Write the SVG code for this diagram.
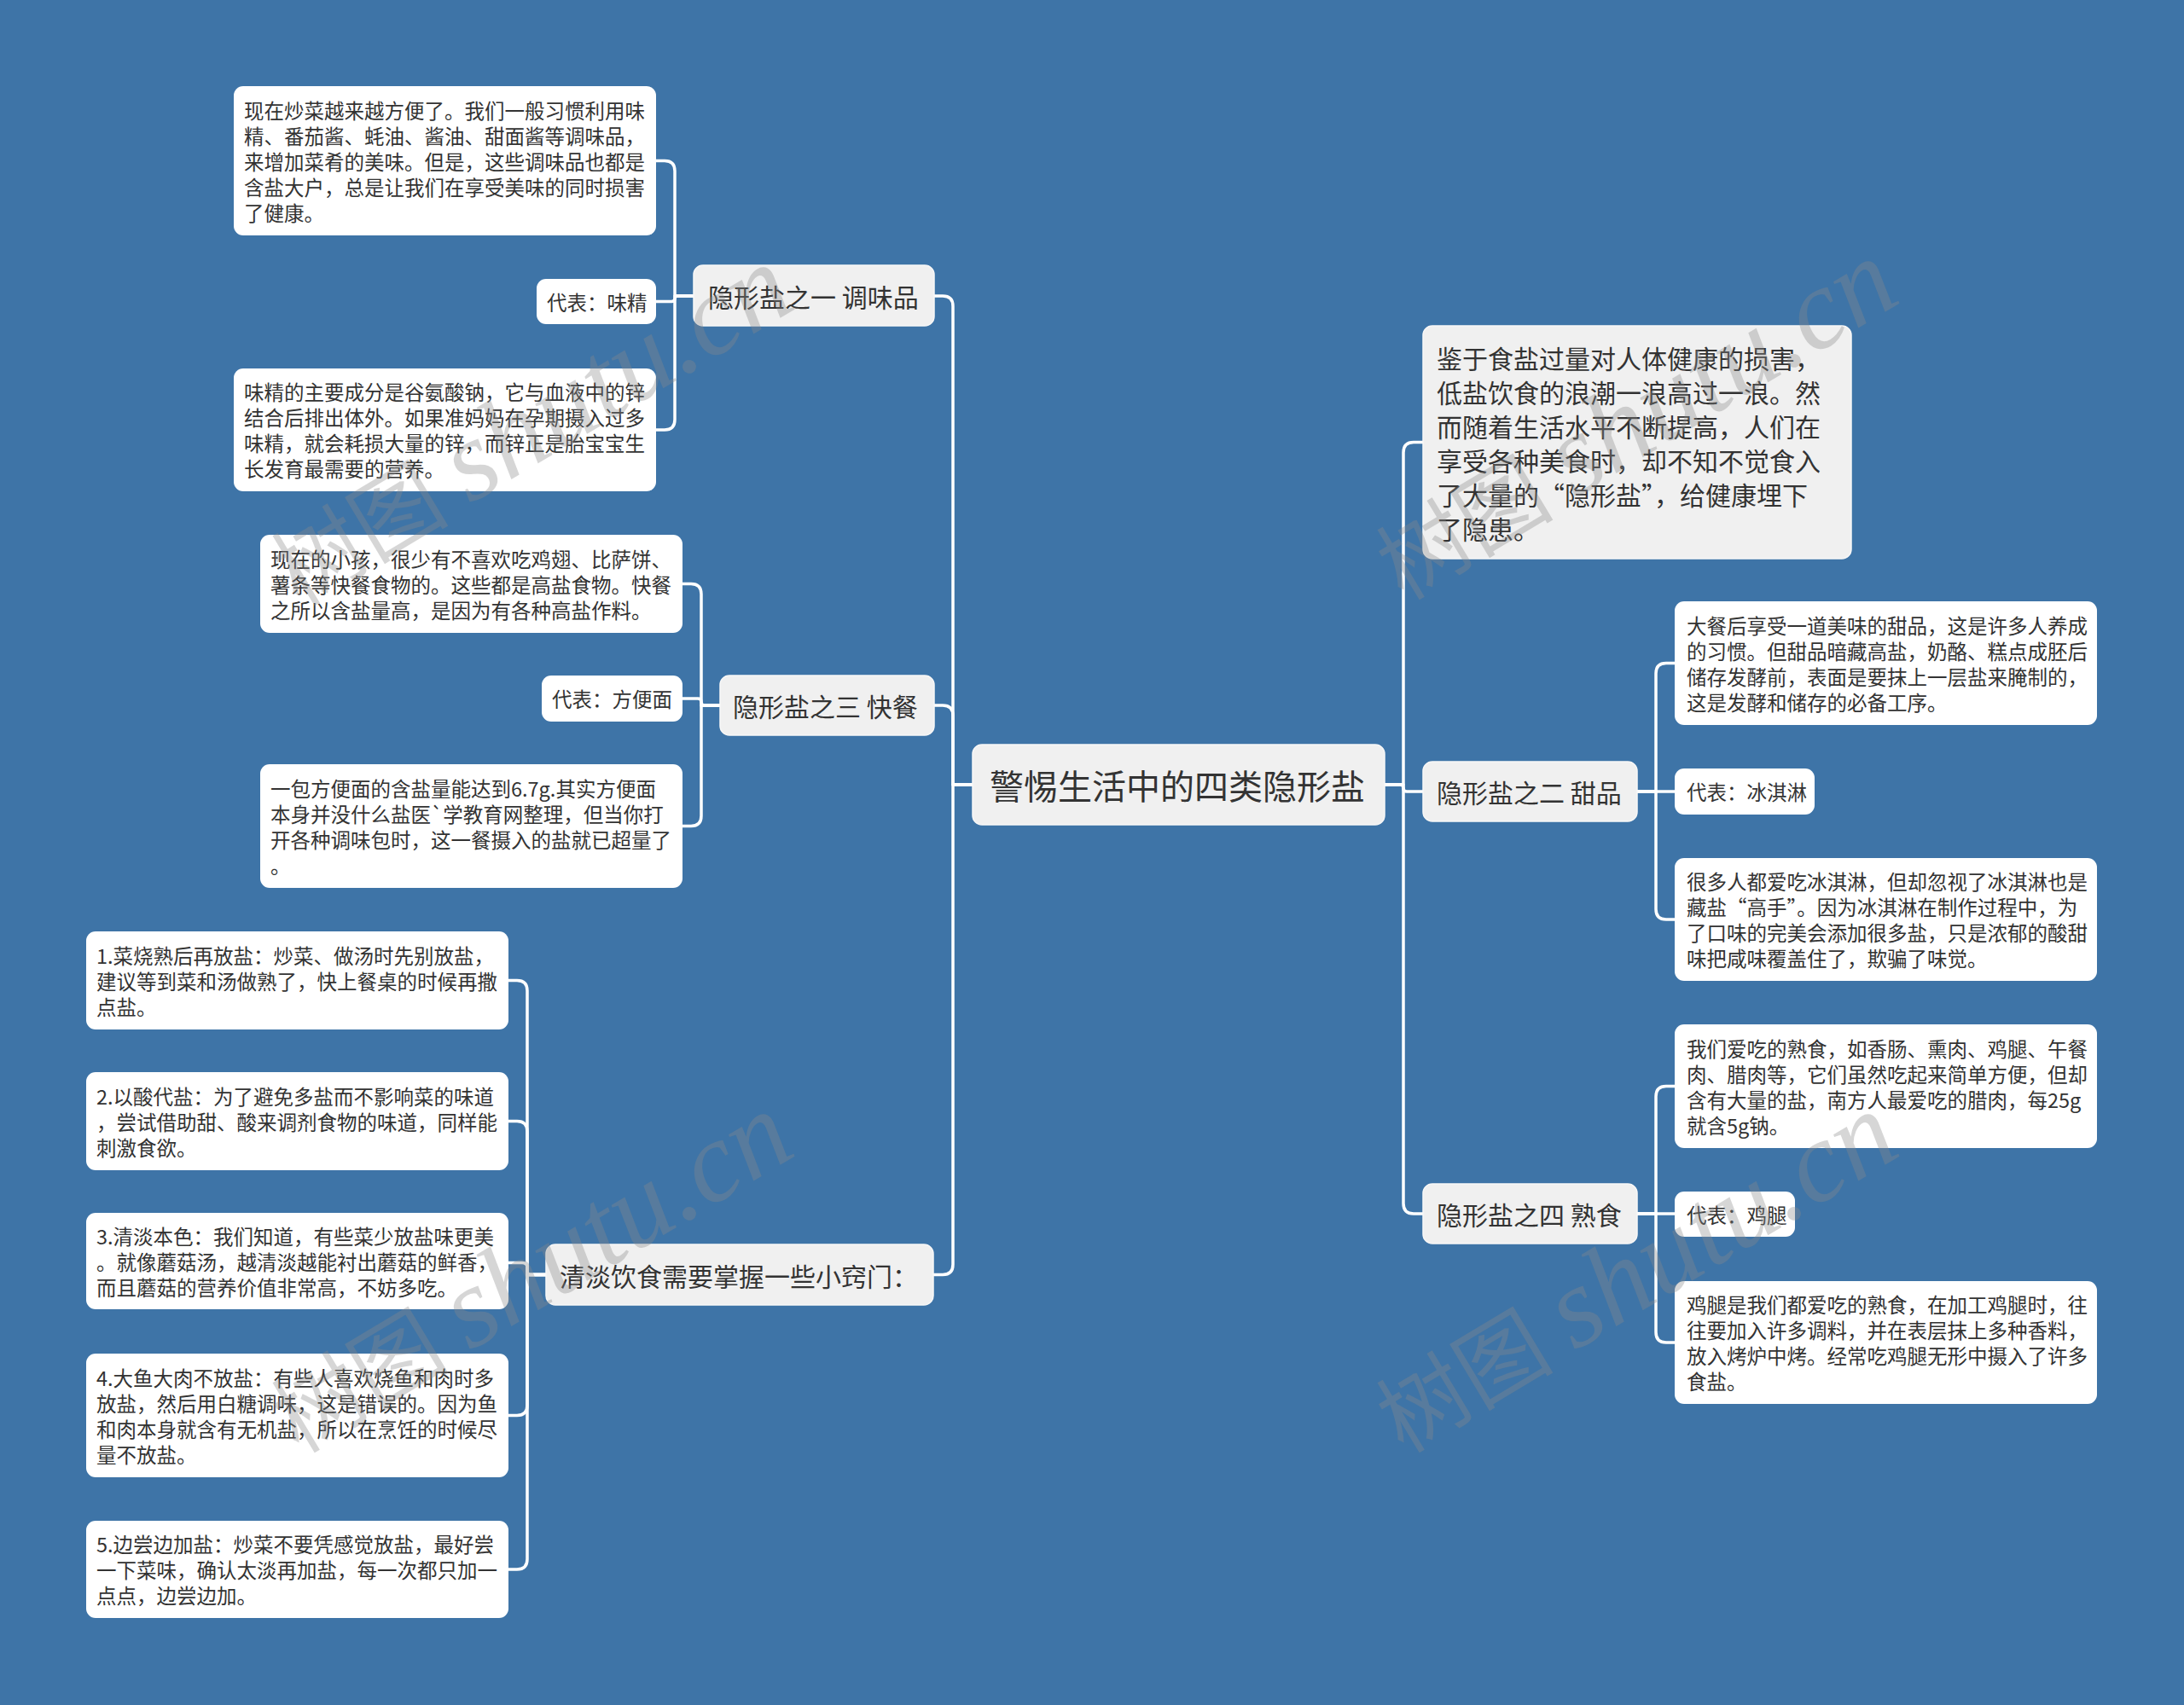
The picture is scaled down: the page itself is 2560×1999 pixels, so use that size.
<svg xmlns="http://www.w3.org/2000/svg" width="2560" height="1999" viewBox="0 0 2560 1999">
<style>
.bg{fill:#3e74a7}
.main{fill:#f0f0f0;stroke:#f7f7f7;stroke-width:1.5}
.sub{fill:#ffffff}
.t{font-family:"Noto Sans CJK SC","Noto Sans",sans-serif;fill:#333333;dominant-baseline:central}
.t40{font-size:40px}
.t30{font-size:30px}
.t23{font-size:23.5px}
.c{fill:none;stroke:#ffffff;stroke-width:3.5;stroke-linejoin:round}
.wm{font-family:"Liberation Serif","Noto Sans CJK SC",serif;fill:#8a8a8a;opacity:0.34;font-size:104px}
</style>
<rect class="bg" x="0" y="0" width="2560" height="1999"/>

<g id="connectors">
<path class="c" d="M1623 920 H1645 V530.5 Q1645 518.5 1657 518.5 H1668"/>
<path class="c" d="M1623 920 H1641 Q1645 920 1645 924 Q1645 928 1649 928 H1668"/>
<path class="c" d="M1623 920 H1645 V1411 Q1645 1423 1657 1423 H1668"/>
<path class="c" d="M1140 920 H1117 V359 Q1117 347 1105 347 H1095"/>
<path class="c" d="M1140 920 H1117 V839 Q1117 827 1105 827 H1095"/>
<path class="c" d="M1140 920 H1117 V1482.5 Q1117 1494.5 1105 1494.5 H1094"/>
<path class="c" d="M813 347 H791 V200.5 Q791 188.5 779 188.5 H769"/>
<path class="c" d="M813 347 H795 Q791 347 791 350 Q791 353.5 787 353.5 H769"/>
<path class="c" d="M813 347 H791 V492 Q791 504 779 504 H769"/>
<path class="c" d="M844 827 H822 V696.5 Q822 684.5 810 684.5 H800"/>
<path class="c" d="M844 827 H826 Q822 827 822 823 Q822 819 818 819 H800"/>
<path class="c" d="M844 827 H822 V956.5 Q822 968.5 810 968.5 H800"/>
<path class="c" d="M640 1494.5 H618 V1161.5 Q618 1149.5 606 1149.5 H596"/>
<path class="c" d="M640 1494.5 H618 V1326.5 Q618 1314.5 606 1314.5 H596"/>
<path class="c" d="M640 1494.5 H622 Q618 1494.5 618 1490 V1486 Q618 1480.5 612 1480.5 H596"/>
<path class="c" d="M640 1494.5 H618 V1647.5 Q618 1659.5 606 1659.5 H596"/>
<path class="c" d="M640 1494.5 H618 V1828 Q618 1840 606 1840 H596"/>
<path class="c" d="M1919 928 H1941 V789.5 Q1941 777.5 1953 777.5 H1963"/>
<path class="c" d="M1919 928 H1963"/>
<path class="c" d="M1919 928 H1941 V1066 Q1941 1078 1953 1078 H1963"/>
<path class="c" d="M1919 1423 H1941 V1285.5 Q1941 1273.5 1953 1273.5 H1963"/>
<path class="c" d="M1919 1423 H1963"/>
<path class="c" d="M1919 1423 H1941 V1562 Q1941 1574 1953 1574 H1963"/>
</g>

<g id="root">
<rect class="main" x="1140" y="873" width="483" height="94" rx="11"/>
<text class="t t40" x="1160" y="920">警惕生活中的四类隐形盐</text>
</g>

<g id="intro">
<rect class="main" x="1668" y="382" width="502" height="273" rx="11"/>
<text class="t t30" x="1684" y="418.5">鉴于食盐过量对人体健康的损害，</text>
<text class="t t30" x="1684" y="458.5">低盐饮食的浪潮一浪高过一浪。然</text>
<text class="t t30" x="1684" y="498.5">而随着生活水平不断提高，人们在</text>
<text class="t t30" x="1684" y="538.5">享受各种美食时，却不知不觉食入</text>
<text class="t t30" x="1684" y="578.5">了大量的“隐形盐”，给健康埋下</text>
<text class="t t30" x="1684" y="618.5">了隐患。</text>
</g>

<g id="tiandian">
<rect class="main" x="1668" y="893" width="251" height="70" rx="11"/>
<text class="t t30" x="1684" y="928">隐形盐之二 甜品</text>
</g>
<g id="tiandian-1">
<rect class="sub" x="1963" y="705" width="495" height="145" rx="11"/>
<text class="t t23" x="1977" y="732.5">大餐后享受一道美味的甜品，这是许多人养成</text>
<text class="t t23" x="1977" y="762.5">的习惯。但甜品暗藏高盐，奶酪、糕点成胚后</text>
<text class="t t23" x="1977" y="792.5">储存发酵前，表面是要抹上一层盐来腌制的，</text>
<text class="t t23" x="1977" y="822.5">这是发酵和储存的必备工序。</text>
</g>
<g id="tiandian-2">
<rect class="sub" x="1963" y="901" width="164" height="54" rx="11"/>
<text class="t t23" x="1977" y="928">代表：冰淇淋</text>
</g>
<g id="tiandian-3">
<rect class="sub" x="1963" y="1006" width="495" height="144" rx="11"/>
<text class="t t23" x="1977" y="1033">很多人都爱吃冰淇淋，但却忽视了冰淇淋也是</text>
<text class="t t23" x="1977" y="1063">藏盐“高手”。因为冰淇淋在制作过程中，为</text>
<text class="t t23" x="1977" y="1093">了口味的完美会添加很多盐，只是浓郁的酸甜</text>
<text class="t t23" x="1977" y="1123">味把咸味覆盖住了，欺骗了味觉。</text>
</g>

<g id="shushi">
<rect class="main" x="1668" y="1388" width="251" height="70" rx="11"/>
<text class="t t30" x="1684" y="1423">隐形盐之四 熟食</text>
</g>
<g id="shushi-1">
<rect class="sub" x="1963" y="1201" width="495" height="145" rx="11"/>
<text class="t t23" x="1977" y="1228.5">我们爱吃的熟食，如香肠、熏肉、鸡腿、午餐</text>
<text class="t t23" x="1977" y="1258.5">肉、腊肉等，它们虽然吃起来简单方便，但却</text>
<text class="t t23" x="1977" y="1288.5">含有大量的盐，南方人最爱吃的腊肉，每25g</text>
<text class="t t23" x="1977" y="1318.5">就含5g钠。</text>
</g>
<g id="shushi-2">
<rect class="sub" x="1963" y="1397" width="141" height="53" rx="11"/>
<text class="t t23" x="1977" y="1423.5">代表：鸡腿</text>
</g>
<g id="shushi-3">
<rect class="sub" x="1963" y="1502" width="495" height="144" rx="11"/>
<text class="t t23" x="1977" y="1529">鸡腿是我们都爱吃的熟食，在加工鸡腿时，往</text>
<text class="t t23" x="1977" y="1559">往要加入许多调料，并在表层抹上多种香料，</text>
<text class="t t23" x="1977" y="1589">放入烤炉中烤。经常吃鸡腿无形中摄入了许多</text>
<text class="t t23" x="1977" y="1619">食盐。</text>
</g>

<g id="tiaoweipin">
<rect class="main" x="813" y="311" width="282" height="71" rx="11"/>
<text class="t t30" x="830" y="346.5">隐形盐之一 调味品</text>
</g>
<g id="tiaoweipin-1">
<rect class="sub" x="274" y="101" width="495" height="175" rx="11"/>
<text class="t t23" x="286" y="128.5">现在炒菜越来越方便了。我们一般习惯利用味</text>
<text class="t t23" x="286" y="158.5">精、番茄酱、蚝油、酱油、甜面酱等调味品，</text>
<text class="t t23" x="286" y="188.5">来增加菜肴的美味。但是，这些调味品也都是</text>
<text class="t t23" x="286" y="218.5">含盐大户，总是让我们在享受美味的同时损害</text>
<text class="t t23" x="286" y="248.5">了健康。</text>
</g>
<g id="tiaoweipin-2">
<rect class="sub" x="629" y="327" width="140" height="53" rx="11"/>
<text class="t t23" x="641" y="353.5">代表：味精</text>
</g>
<g id="tiaoweipin-3">
<rect class="sub" x="274" y="432" width="495" height="144" rx="11"/>
<text class="t t23" x="286" y="459">味精的主要成分是谷氨酸钠，它与血液中的锌</text>
<text class="t t23" x="286" y="489">结合后排出体外。如果准妈妈在孕期摄入过多</text>
<text class="t t23" x="286" y="519">味精，就会耗损大量的锌，而锌正是胎宝宝生</text>
<text class="t t23" x="286" y="549">长发育最需要的营养。</text>
</g>

<g id="kuaican">
<rect class="main" x="844" y="792" width="251" height="70" rx="11"/>
<text class="t t30" x="859" y="827">隐形盐之三 快餐</text>
</g>
<g id="kuaican-1">
<rect class="sub" x="305" y="627" width="495" height="115" rx="11"/>
<text class="t t23" x="317" y="654.5">现在的小孩，很少有不喜欢吃鸡翅、比萨饼、</text>
<text class="t t23" x="317" y="684.5">薯条等快餐食物的。这些都是高盐食物。快餐</text>
<text class="t t23" x="317" y="714.5">之所以含盐量高，是因为有各种高盐作料。</text>
</g>
<g id="kuaican-2">
<rect class="sub" x="635" y="792" width="165" height="54" rx="11"/>
<text class="t t23" x="647" y="819">代表：方便面</text>
</g>
<g id="kuaican-3">
<rect class="sub" x="305" y="896" width="495" height="145" rx="11"/>
<text class="t t23" x="317" y="923.5">一包方便面的含盐量能达到6.7g.其实方便面</text>
<text class="t t23" x="317" y="953.5">本身并没什么盐医`学教育网整理，但当你打</text>
<text class="t t23" x="317" y="983.5">开各种调味包时，这一餐摄入的盐就已超量了</text>
<text class="t t23" x="317" y="1013.5">。</text>
</g>

<g id="qingdan">
<rect class="main" x="640" y="1459" width="454" height="71" rx="11"/>
<text class="t t30" x="656" y="1494.5">清淡饮食需要掌握一些小窍门：</text>
</g>
<g id="qingdan-1">
<rect class="sub" x="101" y="1092" width="495" height="115" rx="11"/>
<text class="t t23" x="113" y="1119.5">1.菜烧熟后再放盐：炒菜、做汤时先别放盐，</text>
<text class="t t23" x="113" y="1149.5">建议等到菜和汤做熟了，快上餐桌的时候再撒</text>
<text class="t t23" x="113" y="1179.5">点盐。</text>
</g>
<g id="qingdan-2">
<rect class="sub" x="101" y="1257" width="495" height="115" rx="11"/>
<text class="t t23" x="113" y="1284.5">2.以酸代盐：为了避免多盐而不影响菜的味道</text>
<text class="t t23" x="113" y="1314.5">，尝试借助甜、酸来调剂食物的味道，同样能</text>
<text class="t t23" x="113" y="1344.5">刺激食欲。</text>
</g>
<g id="qingdan-3">
<rect class="sub" x="101" y="1422" width="495" height="113" rx="11"/>
<text class="t t23" x="113" y="1448.5">3.清淡本色：我们知道，有些菜少放盐味更美</text>
<text class="t t23" x="113" y="1478.5">。就像蘑菇汤，越清淡越能衬出蘑菇的鲜香，</text>
<text class="t t23" x="113" y="1508.5">而且蘑菇的营养价值非常高，不妨多吃。</text>
</g>
<g id="qingdan-4">
<rect class="sub" x="101" y="1587" width="495" height="145" rx="11"/>
<text class="t t23" x="113" y="1614.5">4.大鱼大肉不放盐：有些人喜欢烧鱼和肉时多</text>
<text class="t t23" x="113" y="1644.5">放盐，然后用白糖调味，这是错误的。因为鱼</text>
<text class="t t23" x="113" y="1674.5">和肉本身就含有无机盐，所以在烹饪的时候尽</text>
<text class="t t23" x="113" y="1704.5">量不放盐。</text>
</g>
<g id="qingdan-5">
<rect class="sub" x="101" y="1783" width="495" height="114" rx="11"/>
<text class="t t23" x="113" y="1810">5.边尝边加盐：炒菜不要凭感觉放盐，最好尝</text>
<text class="t t23" x="113" y="1840">一下菜味，确认太淡再加盐，每一次都只加一</text>
<text class="t t23" x="113" y="1870">点点，边尝边加。</text>
</g>

<g id="watermarks">
<text class="wm" transform="translate(350 712) rotate(-31)">树图 <tspan font-size="134" font-style="italic">shutu.cn</tspan></text>
<text class="wm" transform="translate(1645 705) rotate(-31)">树图 <tspan font-size="134" font-style="italic">shutu.cn</tspan></text>
<text class="wm" transform="translate(350 1705) rotate(-31)">树图 <tspan font-size="134" font-style="italic">shutu.cn</tspan></text>
<text class="wm" transform="translate(1645 1705) rotate(-31)">树图 <tspan font-size="134" font-style="italic">shutu.cn</tspan></text>
</g>
</svg>
